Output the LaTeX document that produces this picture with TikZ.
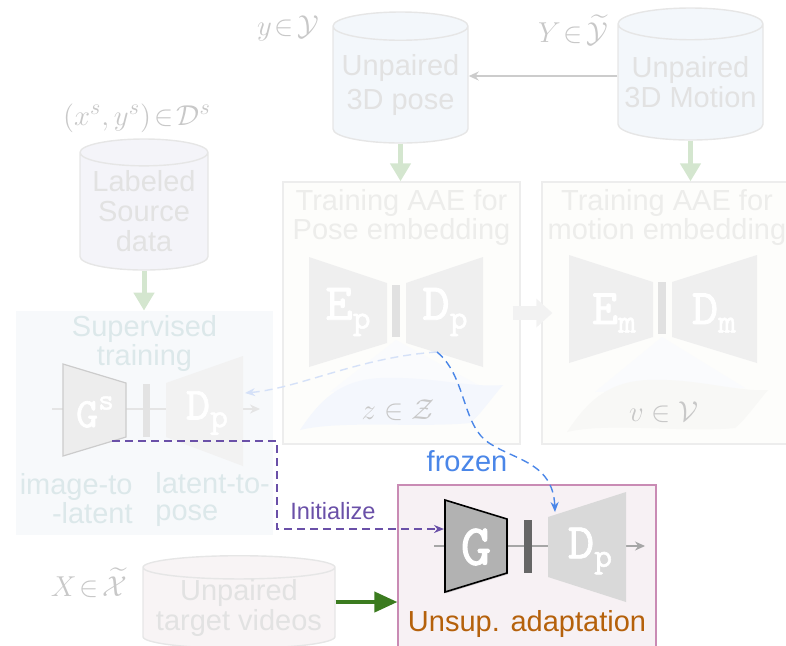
\documentclass[tikz,border=0pt]{standalone}
\usepackage{fontspec}
\usepackage{amssymb}
\newfontfamily\arialfam{Liberation Sans}
\newfontfamily\netfont[FakeBold=1.6]{lmmono10-regular.otf}
\newcommand{\netsub}[1]{\raisebox{-0.17em}{\fontsize{17}{17}\selectfont #1}}
\newcommand{\netsup}[1]{\raisebox{0.42em}{\fontsize{15}{15}\selectfont #1}}
\usetikzlibrary{positioning, arrows.meta, shapes.geometric, shadows}

\definecolor{dbline}{HTML}{E6E6E6}
\definecolor{dbtext}{HTML}{E2E2E2}
\definecolor{posefill}{HTML}{F3F7FB}
\definecolor{srcfill}{HTML}{F4F4F9}
\definecolor{vidfill}{HTML}{F8F4F5}
\definecolor{mathgray}{HTML}{C8C8C8}
\definecolor{aaefill}{HTML}{FDFDFB}
\definecolor{aaeline}{HTML}{EDEDED}
\definecolor{titletext}{HTML}{EDEDEB}
\definecolor{supfill}{HTML}{F7F9FB}
\definecolor{suptext}{HTML}{DCE8EA}
\definecolor{adafill}{HTML}{F7F1F4}
\definecolor{adaline}{HTML}{C98BB4}
\definecolor{adatext}{HTML}{B5610B}
\definecolor{initcol}{HTML}{6A50A8}
\definecolor{frozcol}{HTML}{4A86E8}
\definecolor{frozlight}{HTML}{D5E1F8}
\definecolor{greenlight}{HTML}{D4E6CF}
\definecolor{greendark}{HTML}{3B7B1F}
\definecolor{leafblue}{HTML}{F4F7FD}
\definecolor{leafgray}{HTML}{F8F8F6}
\definecolor{conefill}{HTML}{FAFBFD}
\definecolor{netfaint}{HTML}{EFEFEF}
\definecolor{barfaint}{HTML}{E1E1E1}

\begin{document}
\begin{tikzpicture}[x=0.5pt, y=-0.5pt,
    lbl/.style={font=\arialfam\fontsize{14.5}{15}\selectfont, align=center, inner sep=0pt},
    db/.style={cylinder, shape border rotate=90, anchor=shape center, draw=dbline, line width=0.7pt, lbl, text=dbtext},
    aae/.style={draw=aaeline, line width=0.7pt, fill=aaefill, minimum height=131pt, inner sep=0pt},
    boxtitle/.style={lbl, text=titletext, font=\arialfam\fontsize{14.5}{13.5}\selectfont},
    mathlbl/.style={font=\fontsize{15}{15}\selectfont, text=mathgray, inner sep=0pt},
    net/.style={font=\netfont\fontsize{26}{26}\selectfont, text=white, inner sep=0pt},
    fatarr/.style={draw=greenlight, line width=2.5pt, -{Triangle[length=9pt, width=10pt]}},
    thinarr/.style={-{Stealth[length=5pt, width=4.5pt]}},
    dasharr/.style={dash pattern=on 4pt off 2.5pt, line width=0.7pt, -{Stealth[length=5pt, width=4pt]}}
  ]
  \useasboundingbox (0,0) rectangle (786,645);

  % Boxes
  \node[aae, minimum width=118.5pt] (poseBox) at (401.5,313) {};
  \node[aae, minimum width=125pt] (motBox) at (667,313) {};
  \node[fill=supfill, minimum width=128.5pt, minimum height=112pt, inner sep=0pt] (supBox) at (144.5,423) {};
  \node[fill=adafill, draw=adaline, line width=0.6pt, minimum width=129pt, minimum height=83.5pt, inner sep=0pt] (adaBox) at (527,568.5) {};

  \node[boxtitle, below=4pt of poseBox.north] (poseTitle) {Training AAE for\\Pose embedding};
  \node[boxtitle, below=4pt of motBox.north] (motTitle) {Training AAE for\\motion embedding};
  \node[boxtitle, text=suptext, below=2pt of supBox.north] (supTitle) {Supervised\\training};
  \node[lbl, text=adatext, anchor=base] (adaTitle) at (527,631) {Unsup. adaptation};
  \node[boxtitle, text=suptext, align=right, anchor=east] (encLbl) at (133,499) {image-to\\-latent};
  \node[boxtitle, text=suptext, align=left, anchor=west] (decLbl) at (155,499) {latent-to-\\pose};

  % Data sources
  \node[db, fill=posefill, aspect=0.24, minimum width=67.5pt, minimum height=65.5pt] (poseDB) at (400.5,77.5) {Unpaired\\[2pt]3D pose};
  \node[db, fill=posefill, aspect=0.24, minimum width=72.5pt, minimum height=66pt] (motionDB) at (690.5,74) {Unpaired\\3D Motion};
  \node[db, fill=srcfill, aspect=0.26, minimum width=64pt, minimum height=65.5pt] (srcDB) at (144,204.5) {Labeled\\Source\\data};
  \node[db, fill=vidfill, aspect=0.14, minimum width=96pt, minimum height=42pt] (vidDB) at (239,602) {Unpaired\\target videos};

  \node[mathlbl] (yLbl) at (288,28) {$y\!\in\!\mathcal{Y}$};
  \node[mathlbl] (YLbl) at (573,30) {$Y\!\in\!\widetilde{\mathcal{Y}}$};
  \node[mathlbl] (srcLbl) at (137,118) {$(x^s,y^s)\!\in\!\mathcal{D}^s$};
  \node[mathlbl] (XLbl) at (89,583) {$X\!\in\!\widetilde{\mathcal{X}}$};

  % Latent spaces
  \fill[conefill] (396,340) -- (330,392) -- (480,386) -- cycle;
  \fill[conefill] (662,337) -- (595,392) -- (745,388) -- cycle;
  \fill[leafblue] (300,430) .. controls (320,400) and (340,380) .. (380,378) .. controls (430,376) and (470,388) .. (503,385)
    .. controls (490,400) and (480,415) .. (470,423) .. controls (420,428) and (340,420) .. (300,430) -- cycle;
  \fill[leafgray] (567,432) .. controls (587,402) and (607,382) .. (647,380) .. controls (697,378) and (735,392) .. (768,390)
    .. controls (755,405) and (745,420) .. (735,428) .. controls (685,433) and (607,422) .. (567,432) -- cycle;
  \node[mathlbl] (zLbl) at (398,410) {$z\in\mathcal{Z}$};
  \node[mathlbl] (vLbl) at (664,412) {$v\in\mathcal{V}$};

  % Pose AAE
  \fill[netfaint] (309,257) -- (387,283) -- (387,343) -- (309,367) -- cycle;
  \fill[barfaint] (392,285) rectangle (400,337);
  \fill[netfaint] (406,283) -- (483,257) -- (483,367) -- (406,343) -- cycle;
  \node[net] (epLbl) at (348,312) {E\netsub{p}};
  \node[net] (dpLbl) at (445,312) {D\netsub{p}};

  % Motion AAE
  \fill[netfaint] (569,255) -- (653,282) -- (653,337) -- (569,363) -- cycle;
  \fill[barfaint] (658,282) rectangle (666,334);
  \fill[netfaint] (672,282) -- (757,255) -- (757,363) -- (672,337) -- cycle;
  \node[net, font=\netfont\fontsize{25}{25}\selectfont] (emLbl) at (614,313) {E\netsub{m}};
  \node[net, font=\netfont\fontsize{25}{25}\selectfont] (dmLbl) at (714,313) {D\netsub{m}};

  % Supervised net
  \draw[black!10, line width=0.6pt, thinarr] (52,409) -- (260,409);
  \filldraw[fill=black!7, draw=black!20, line width=0.6pt] (63,364) -- (126,383) -- (126,437) -- (63,456) -- cycle;
  \fill[black!11] (143,384) rectangle (150,437);
  \fill[black!5] (166,383) -- (243,356) -- (243,466) -- (166,437) -- cycle;
  \node[net, font=\netfont\fontsize{21}{21}\selectfont] (gsLbl) at (95,412) {G\netsup{s}};
  \node[net, font=\netfont\fontsize{23}{23}\selectfont] (dpsLbl) at (207,413) {D\netsub{p}};

  % Adaptation net
  \draw[black!35, line width=0.6pt, thinarr] (434,546) -- (645,546);
  \filldraw[fill=black!30, draw=black, line width=0.8pt, drop shadow={shadow xshift=0.6pt, shadow yshift=-0.6pt, opacity=0.35}]
    (445,500) -- (507,519) -- (507,573) -- (445,592) -- cycle;
  \fill[black!60] (524,520) rectangle (532,573);
  \fill[black!15] (548,517) -- (626,492) -- (626,602) -- (548,577) -- cycle;
  \node[net, font=\netfont\fontsize{29}{29}\selectfont] (gLbl) at (476,547) {G};
  \node[net, font=\netfont\fontsize{25}{25}\selectfont] (dpaLbl) at (590,551) {D\netsub{p}};

  % Edges
  \draw[black!5, line width=7pt, -{Triangle[length=8pt, width=14pt]}] ([xshift=-4pt]poseBox.east) -- ([xshift=5.5pt]motBox.west);
  \draw[fatarr] (poseDB.south) -- (poseDB.south |- poseBox.north);
  \draw[fatarr] (motionDB.south) -- (motionDB.south |- motBox.north);
  \draw[fatarr] (srcDB.south) -- (srcDB.south |- supBox.north);
  \draw[black!20, line width=0.8pt, thinarr] ([yshift=-1pt]motionDB.shape center -| motionDB.west) coordinate (motOut) -- (motOut -| poseDB.east);
  \draw[greendark, line width=2pt, -{Triangle[length=11.5pt, width=10pt]}] (vidDB.shape center -| vidDB.east) coordinate (vidOut) -- (vidOut -| adaBox.west);

  \coordinate (dpOut) at (437,352);
  \coordinate (dpIn) at (245,393);
  \coordinate (dpTop) at (555,512);
  \coordinate (gsOut) at (112,441);
  \coordinate (gIn) at (444,529);
  \draw[dasharr, frozlight] (dpOut) .. controls (360,357) and (300,388) .. (dpIn);
  \draw[dasharr, frozcol] (dpOut) .. controls (465,375) and (462,420) .. (485,440) .. controls (510,460) and (553,460) .. (dpTop);
  \node[lbl, text=frozcol] (frozLbl) at (467,461) {frozen};
  \draw[dasharr, initcol] (gsOut) -| (277,529) -- (gIn);
  \node[lbl, text=initcol, font=\arialfam\fontsize{11.8}{12}\selectfont] (initLbl) at (333,511) {Initialize};
\end{tikzpicture}
\end{document}
